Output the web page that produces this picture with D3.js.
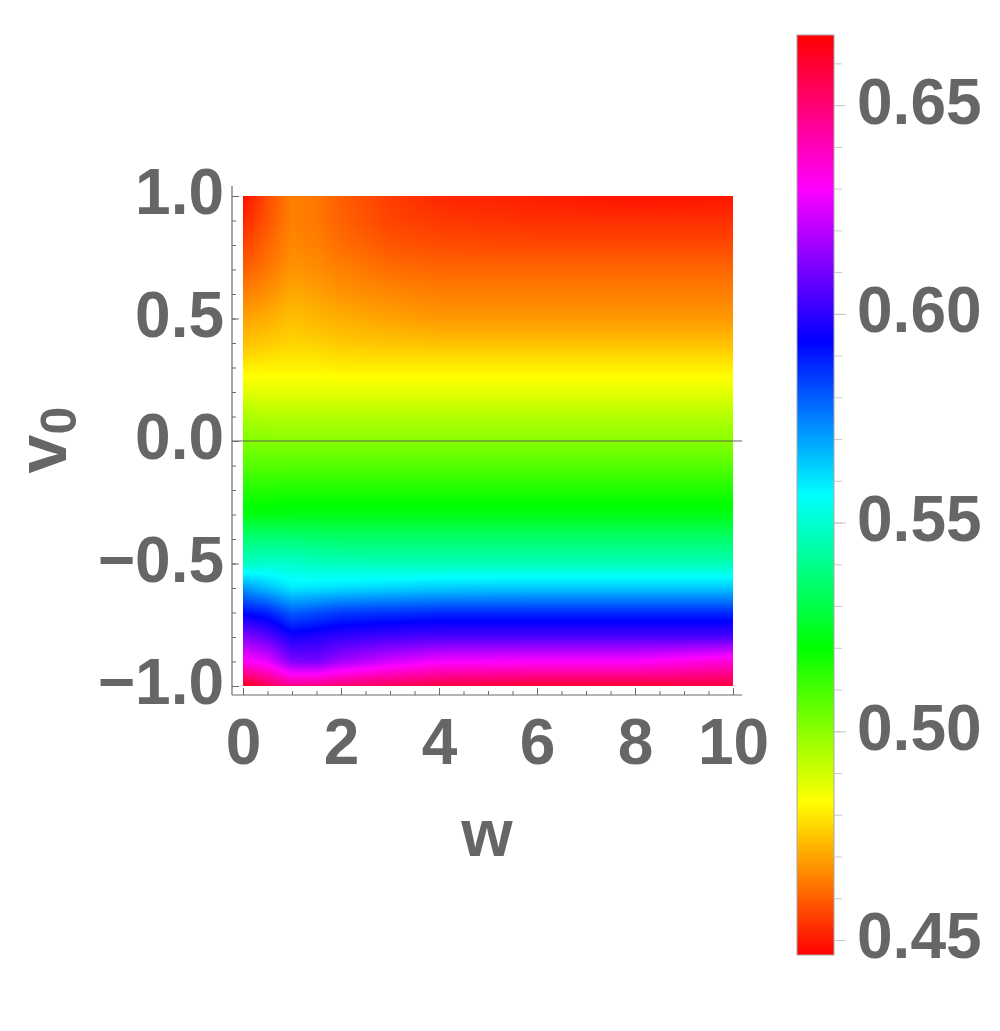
<!DOCTYPE html>
<html>
<head>
<meta charset="utf-8">
<script src="https://cdn.jsdelivr.net/npm/d3@7"></script>
<style>
  body { margin: 0; background: #fff; }
  text { font-family: "Liberation Sans", Arial, sans-serif; font-weight: bold; fill: #666; }
</style>
</head>
<body>
<div id="chart"></div>
<script>
// grid the density was read on (w columns, v0 rows from -1 to 1)
const wLevels = [0, 0.5, 1, 1.5, 2, 3, 4, 6, 8, 10];
const v0Levels = [-1.0, -0.9, -0.8, -0.7, -0.6, -0.5, -0.4, -0.3, -0.2, -0.1, 0.0,
                  0.1, 0.2, 0.3, 0.4, 0.5, 0.6, 0.7, 0.8, 0.9, 1.0];

// one column of values per w level, bottom (v0=-1) to top (v0=1)
const colW0   = [0.6637, 0.6319, 0.6129, 0.5921, 0.5719, 0.5474, 0.5370, 0.5223, 0.5150, 0.5076, 0.5015, 0.4954, 0.4874, 0.4807, 0.4740, 0.4697, 0.4648, 0.4599, 0.4556, 0.4519, 0.4482];
const colW05  = [0.6545, 0.6270, 0.6068, 0.5884, 0.5658, 0.5493, 0.5370, 0.5223, 0.5150, 0.5076, 0.5003, 0.4942, 0.4868, 0.4813, 0.4758, 0.4715, 0.4672, 0.4635, 0.4611, 0.4586, 0.4574];
const colW1   = [0.6472, 0.6117, 0.5964, 0.5799, 0.5597, 0.5493, 0.5370, 0.5229, 0.5156, 0.5076, 0.5003, 0.4942, 0.4868, 0.4813, 0.4770, 0.4740, 0.4709, 0.4678, 0.4660, 0.4648, 0.4648];
const colW15  = [0.6484, 0.6105, 0.5982, 0.5823, 0.5603, 0.5474, 0.5358, 0.5229, 0.5156, 0.5076, 0.5003, 0.4942, 0.4868, 0.4813, 0.4764, 0.4727, 0.4697, 0.4666, 0.4648, 0.4635, 0.4635];
const colW2   = [0.6515, 0.6166, 0.6007, 0.5848, 0.5615, 0.5468, 0.5352, 0.5229, 0.5156, 0.5076, 0.5003, 0.4942, 0.4868, 0.4807, 0.4752, 0.4715, 0.4678, 0.4648, 0.4623, 0.4605, 0.4599];
const colW3   = [0.6545, 0.6239, 0.6031, 0.5860, 0.5627, 0.5462, 0.5352, 0.5229, 0.5156, 0.5076, 0.5003, 0.4942, 0.4868, 0.4807, 0.4746, 0.4697, 0.4660, 0.4623, 0.4586, 0.4562, 0.4550];
const colW4   = [0.6576, 0.6288, 0.6043, 0.5872, 0.5640, 0.5462, 0.5352, 0.5229, 0.5156, 0.5076, 0.5003, 0.4942, 0.4868, 0.4807, 0.4740, 0.4684, 0.4648, 0.4611, 0.4574, 0.4544, 0.4519];
const colW6   = [0.6595, 0.6301, 0.6043, 0.5872, 0.5646, 0.5462, 0.5352, 0.5229, 0.5156, 0.5076, 0.5003, 0.4942, 0.4868, 0.4807, 0.4740, 0.4684, 0.4648, 0.4611, 0.4568, 0.4531, 0.4507];
const colW8   = [0.6595, 0.6301, 0.6043, 0.5872, 0.5646, 0.5462, 0.5352, 0.5229, 0.5156, 0.5076, 0.5003, 0.4942, 0.4868, 0.4807, 0.4740, 0.4684, 0.4648, 0.4611, 0.4568, 0.4531, 0.4488];
const colW10  = [0.6576, 0.6362, 0.6043, 0.5872, 0.5646, 0.5462, 0.5352, 0.5229, 0.5156, 0.5076, 0.5003, 0.4942, 0.4868, 0.4807, 0.4740, 0.4684, 0.4648, 0.4611, 0.4568, 0.4531, 0.4495];
const columns = [colW0, colW05, colW1, colW15, colW2, colW3, colW4, colW6, colW8, colW10];

const colorDomain = [0.4464, 0.6668];
const barTicks = [0.45, 0.50, 0.55, 0.60, 0.65];
const xTicks = [0, 2, 4, 6, 8, 10];
const yTicks = [-1, -0.5, 0, 0.5, 1];

const width = 1000, height = 1031;

const svg = d3.select('#chart')
  .append('svg')
  .attr('width', width)
  .attr('height', height);

svg.append('rect').attr('width', width).attr('height', height).attr('fill', '#fff');

const x = d3.scaleLinear().domain([0, 10]).range([243, 733]);
const y = d3.scaleLinear().domain([-1, 1]).range([686, 196]);

// Mathematica-style Hue colouring
const color = d3.scaleSequential(t => d3.hsl(360 * t, 1, 0.5))
  .domain(colorDomain)
  .clamp(true);

// bilinear lookup in the read grid
function valueAt(w, v) {
  let i = d3.bisectRight(wLevels, w) - 1;
  i = Math.max(0, Math.min(wLevels.length - 2, i));
  const tw = Math.max(0, Math.min(1, (w - wLevels[i]) / (wLevels[i + 1] - wLevels[i])));
  let j = d3.bisectRight(v0Levels, v) - 1;
  j = Math.max(0, Math.min(v0Levels.length - 2, j));
  const tv = Math.max(0, Math.min(1, (v - v0Levels[j]) / (v0Levels[j + 1] - v0Levels[j])));
  const a = columns[i], b = columns[i + 1];
  const lo = a[j] * (1 - tw) + b[j] * tw;
  const hi = a[j + 1] * (1 - tw) + b[j + 1] * tw;
  return lo * (1 - tv) + hi * tv;
}

// density raster
const px0 = x(0), py0 = y(1);
const cw = Math.round(x(10) - x(0)), ch = Math.round(y(-1) - y(1));
const canvas = document.createElement('canvas');
canvas.width = cw;
canvas.height = ch;
const ctx = canvas.getContext('2d');
const img = ctx.createImageData(cw, ch);
for (let r = 0; r < ch; r++) {
  const v = y.invert(py0 + r + 0.5);
  for (let c = 0; c < cw; c++) {
    const w = x.invert(px0 + c + 0.5);
    const col = d3.rgb(color(valueAt(w, v)));
    const k = (r * cw + c) * 4;
    img.data[k] = col.r;
    img.data[k + 1] = col.g;
    img.data[k + 2] = col.b;
    img.data[k + 3] = 255;
  }
}
ctx.putImageData(img, 0, 0);

svg.append('image')
  .attr('x', px0)
  .attr('y', py0)
  .attr('width', cw)
  .attr('height', ch)
  .attr('preserveAspectRatio', 'none')
  .attr('href', canvas.toDataURL());

// frame lines
const axisColor = '#6b6b6b';
svg.append('line')
  .attr('x1', 232).attr('x2', 742)
  .attr('y1', 695).attr('y2', 695)
  .attr('stroke', axisColor).attr('stroke-width', 1.2);
svg.append('line')
  .attr('x1', 232).attr('x2', 232)
  .attr('y1', 186).attr('y2', 695)
  .attr('stroke', axisColor).attr('stroke-width', 1.2);

// zero line
svg.append('line')
  .attr('x1', 232).attr('x2', 742)
  .attr('y1', y(0)).attr('y2', y(0))
  .attr('stroke', '#555').attr('stroke-width', 0.9);

function styleAxis(g, size) {
  g.select('.domain').remove();
  g.selectAll('line').attr('stroke', axisColor);
  g.selectAll('text')
    .attr('font-size', size)
    .attr('font-family', '"Liberation Sans", Arial, sans-serif')
    .attr('font-weight', 'bold')
    .attr('fill', '#666');
}

// x axis
svg.append('g')
  .attr('transform', 'translate(0,695)')
  .call(d3.axisBottom(x).tickValues(d3.range(0, 10.01, 0.5)).tickSize(-4).tickFormat(''))
  .call(g => styleAxis(g, 0));
svg.append('g')
  .attr('transform', 'translate(0,695)')
  .call(d3.axisBottom(x).tickValues(xTicks).tickSize(-7).tickPadding(24).tickFormat(d3.format('d')))
  .call(g => styleAxis(g, 64));

// y axis
svg.append('g')
  .attr('transform', 'translate(232,0)')
  .call(d3.axisLeft(y).tickValues(d3.range(-1, 1.001, 0.1)).tickSize(-4).tickFormat(''))
  .call(g => styleAxis(g, 0));
svg.append('g')
  .attr('transform', 'translate(232,0)')
  .call(d3.axisLeft(y).tickValues(yTicks).tickSize(-7).tickPadding(8).tickFormat(d3.format('.1f')))
  .call(g => styleAxis(g, 64))
  .call(g => g.selectAll('text').attr('dy', '0.28em'));

// axis titles
svg.append('text')
  .attr('x', 487)
  .attr('y', 856)
  .attr('text-anchor', 'middle')
  .attr('font-size', 66)
  .text('w');

const yTitle = svg.append('text')
  .attr('transform', 'translate(66,440) rotate(-90)')
  .attr('text-anchor', 'middle')
  .attr('font-size', 70);
yTitle.append('tspan').text('v');
yTitle.append('tspan').attr('font-size', 50).attr('dy', 10).text('0');

// colour bar
const cy = d3.scaleLinear().domain(colorDomain).range([955, 35]);
const grad = svg.append('defs').append('linearGradient')
  .attr('id', 'bar')
  .attr('x1', 0).attr('y1', 1).attr('x2', 0).attr('y2', 0);
d3.range(0, 37).forEach(i => {
  grad.append('stop')
    .attr('offset', i / 36)
    .attr('stop-color', d3.hsl(i * 10, 1, 0.5).formatHex());
});

svg.append('rect')
  .attr('x', 797)
  .attr('y', cy(colorDomain[1]))
  .attr('width', 37)
  .attr('height', cy(colorDomain[0]) - cy(colorDomain[1]))
  .attr('fill', 'url(#bar)')
  .attr('stroke', '#a8a8a8')
  .attr('stroke-width', 1);

svg.append('g')
  .attr('transform', 'translate(834,0)')
  .call(d3.axisRight(cy).tickValues(d3.range(0.45, 0.6601, 0.01)).tickSize(8).tickFormat(''))
  .call(g => styleAxis(g, 0))
  .call(g => g.selectAll('line').attr('stroke', '#c8c8c8'));
svg.append('g')
  .attr('transform', 'translate(834,0)')
  .call(d3.axisRight(cy).tickValues(barTicks).tickSize(12).tickPadding(11).tickFormat(d3.format('.2f')))
  .call(g => styleAxis(g, 64))
  .call(g => g.selectAll('line').attr('stroke', '#c8c8c8'))
  .call(g => g.selectAll('text').attr('dy', '0.28em'));
</script>
</body>
</html>
